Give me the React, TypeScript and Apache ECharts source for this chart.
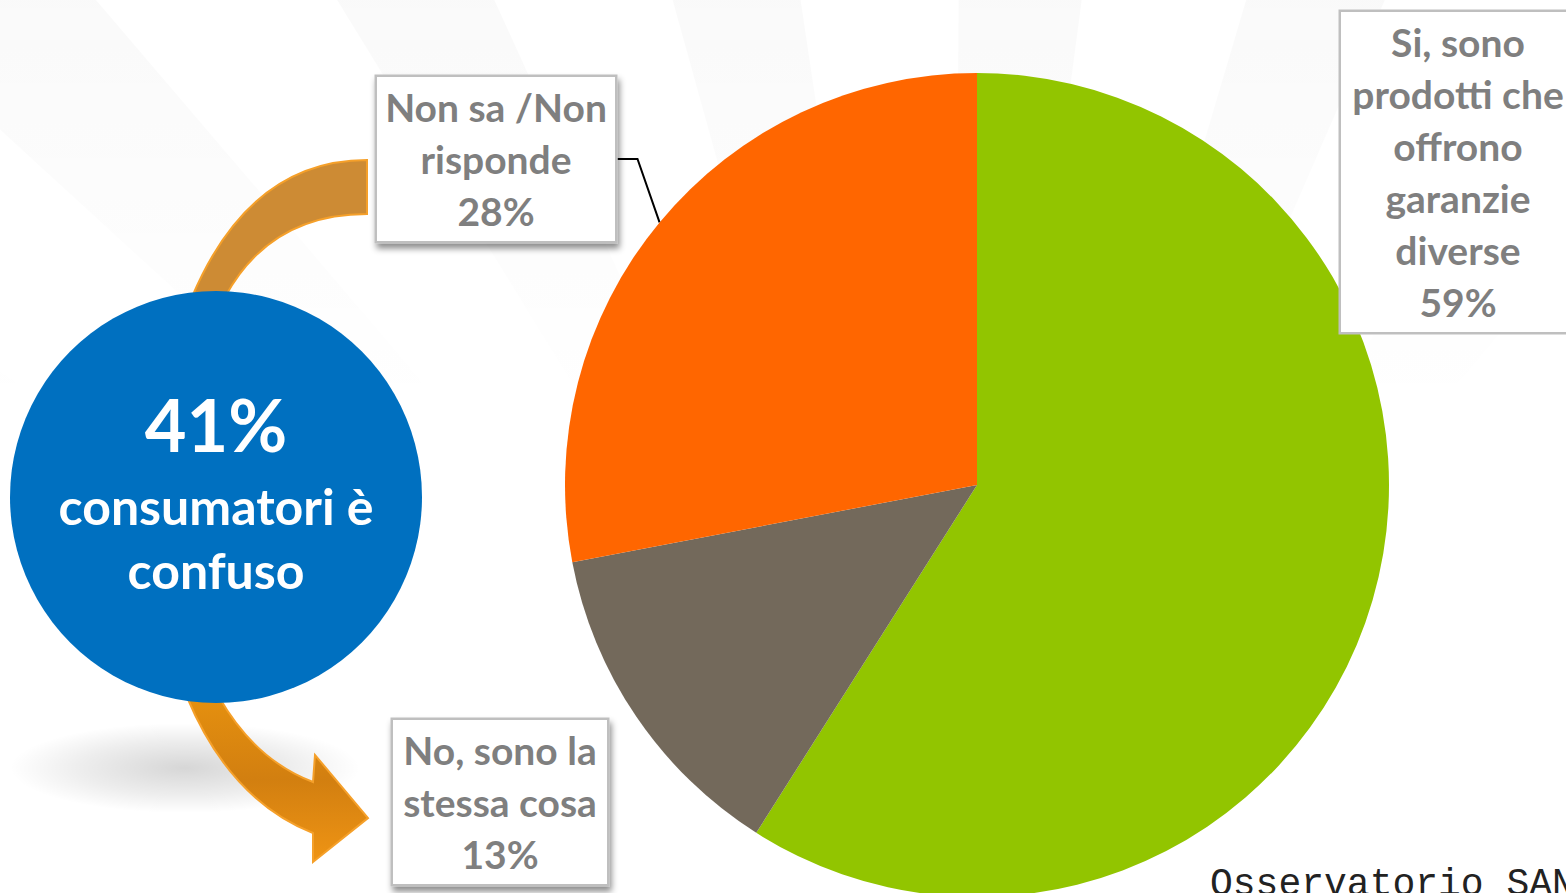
import React, { useEffect, useRef } from "react";
import * as echarts from "echarts";

// ---- data ----
const categories = [
  "Si, sono\nprodotti che\noffrono\ngaranzie\ndiverse",
  "No, sono la\nstessa cosa",
  "Non sa /Non\nrisponde",
];
const values = [59, 13, 28];
const sliceColors = ["#92c500", "#73695b", "#ff6600"];
const calloutLines = ["41%", "consumatori è", "confuso"];
const sourceText = "Osservatorio SANA";

// ---- layout (positions / sizes) ----
const labelCenters = [
  [1458, 172],
  [500, 802],
  [496, 159],
];
const labelWidths = [216, 196, 220];

const ARROW_TOP =
  "M192,297 Q250,160 367,160 L367,214 Q270,214 225,297 Z";
const ARROW_BOTTOM =
  "M187,697 Q230,800 313,833 L313,862 L368,818 L315,755 L313,782 Q255,760 219,697 Z";

echarts.graphic.registerShape("arrowTop", echarts.graphic.extendPath(ARROW_TOP, {}) as any);
echarts.graphic.registerShape("arrowBottom", echarts.graphic.extendPath(ARROW_BOTTOM, {}) as any);

export default function App() {
  const ref = useRef<HTMLDivElement>(null);

  useEffect(() => {
    if (!ref.current) return;
    const chart = echarts.init(ref.current, null, { renderer: "svg" });

    const rayFill = new echarts.graphic.LinearGradient(
      0, 0, 0, 420,
      [
        { offset: 0, color: "rgba(0,0,0,0.022)" },
        { offset: 1, color: "rgba(0,0,0,0)" },
      ],
      true
    );
    const rays: any[] = [];
    const rayAngles = [-150, -134, -118, -102, -86, -70, -54, -38];
    rayAngles.forEach((a) => {
      const cx = 950, cy = 1000, L = 2200, w = 3.5;
      const r1 = ((a - w) * Math.PI) / 180;
      const r2 = ((a + w) * Math.PI) / 180;
      rays.push({
        type: "polygon",
        z: -10,
        silent: true,
        shape: {
          points: [
            [cx, cy],
            [cx + L * Math.cos(r1), cy + L * Math.sin(r1)],
            [cx + L * Math.cos(r2), cy + L * Math.sin(r2)],
          ],
        },
        style: { fill: rayFill },
      });
    });

    const option: any = {
      animation: false,
      backgroundColor: "#ffffff",
      graphic: [
        ...rays,
        {
          type: "ellipse",
          z: 1,
          silent: true,
          shape: { cx: 185, cy: 768, rx: 175, ry: 45 },
          style: {
            fill: new echarts.graphic.RadialGradient(0.5, 0.5, 0.5, [
              { offset: 0, color: "rgba(0,0,0,0.16)" },
              { offset: 0.6, color: "rgba(0,0,0,0.07)" },
              { offset: 1, color: "rgba(0,0,0,0)" },
            ]),
          },
        },
        {
          type: "arrowTop",
          z: 2,
          silent: true,
          x: 0,
          y: 0,
          style: { fill: "#cd8b34", stroke: "#f5a02a", lineWidth: 2 },
        },
        {
          type: "arrowBottom",
          z: 2,
          silent: true,
          x: 0,
          y: 0,
          style: {
            fill: new echarts.graphic.LinearGradient(0, 0, 0, 1, [
              { offset: 0, color: "#e5900f" },
              { offset: 0.5, color: "#d27f10" },
              { offset: 1, color: "#ef9414" },
            ]),
            stroke: "#f5a02a",
            lineWidth: 2,
          },
        },
        {
          type: "circle",
          z: 3,
          silent: true,
          shape: { cx: 216, cy: 497, r: 206 },
          style: { fill: "#0070c0" },
        },
        {
          type: "text",
          z: 4,
          silent: true,
          x: 216,
          y: 424,
          style: {
            text: calloutLines[0],
            fill: "#ffffff",
            font: "bold 72px Lato",
            textAlign: "center",
            textVerticalAlign: "middle",
          },
        },
        {
          type: "text",
          z: 4,
          silent: true,
          x: 216,
          y: 506,
          style: {
            text: calloutLines[1],
            fill: "#ffffff",
            font: "bold 50px Lato",
            textAlign: "center",
            textVerticalAlign: "middle",
          },
        },
        {
          type: "text",
          z: 4,
          silent: true,
          x: 216,
          y: 570,
          style: {
            text: calloutLines[2],
            fill: "#ffffff",
            font: "bold 50px Lato",
            textAlign: "center",
            textVerticalAlign: "middle",
          },
        },
        {
          type: "text",
          z: 4,
          silent: true,
          x: 1210,
          y: 884,
          style: {
            text: sourceText,
            fill: "#222222",
            font: "38px 'Liberation Mono'",
            textAlign: "left",
            textVerticalAlign: "middle",
          },
        },
      ],
      series: [
        {
          type: "pie",
          center: [977, 485],
          radius: 412,
          startAngle: 90,
          clockwise: true,
          silent: true,
          avoidLabelOverlap: false,
          z: 5,
          data: values.map((v, i) => ({
            value: v,
            name: categories[i],
            itemStyle: { color: sliceColors[i] },
            label: {
              width: labelWidths[i],
              shadowColor: i === 0 ? "rgba(0,0,0,0)" : "rgba(0,0,0,0.45)",
            },
            labelLine: { show: i === 2 },
          })),
          label: {
            show: true,
            position: "outside",
            overflow: "none",
            formatter: (p: any) => `${p.name}\n${p.value}%`,
            color: "#7f7f7f",
            fontFamily: "Lato",
            fontWeight: "bold",
            fontSize: 39,
            lineHeight: 52,
            align: "center",
            backgroundColor: "#ffffff",
            borderColor: "#bfbfbf",
            borderWidth: 2.5,
            padding: [4, 9],
            shadowBlur: 6,
            shadowOffsetX: 2,
            shadowOffsetY: 5,
          },
          labelLine: {
            show: true,
            length: 20,
            length2: 20,
            lineStyle: { color: "#000000", width: 2 },
          },
          labelLayout: (params: any) => ({
            x: labelCenters[params.dataIndex][0],
            y: labelCenters[params.dataIndex][1],
            align: "center",
            verticalAlign: "middle",
          }),
        },
      ],
    };

    chart.setOption(option);
    return () => chart.dispose();
  }, []);

  return (
    <div
      ref={ref}
      style={{ position: "fixed", left: 0, top: 0, width: 1566, height: 893 }}
    />
  );
}
